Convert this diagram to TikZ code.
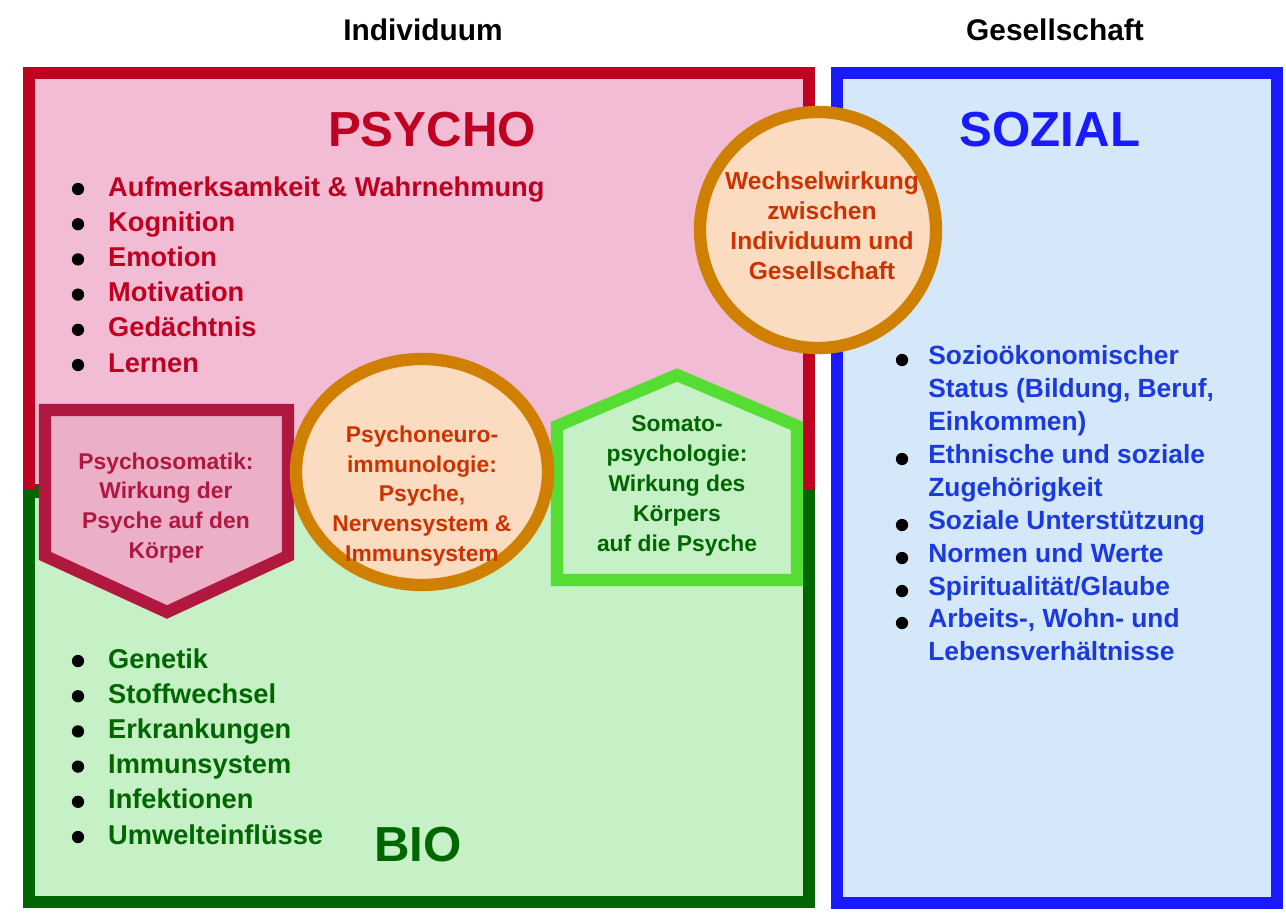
\documentclass[tikz,border=0pt]{standalone}
\usepackage{fontspec}
\setmainfont{Liberation Sans}
\definecolor{pred}{HTML}{C00020}
\definecolor{pfill}{HTML}{F2BCD4}
\definecolor{gdark}{HTML}{006600}
\definecolor{gfill}{HTML}{C6F0C6}
\definecolor{sblue}{HTML}{1A1AFF}
\definecolor{sfill}{HTML}{D4E8FA}
\definecolor{orng}{HTML}{D08000}
\definecolor{ofill}{HTML}{FBDCC0}
\definecolor{otext}{HTML}{CC3300}
\definecolor{psred}{HTML}{B01840}
\definecolor{psfill}{HTML}{EBAFC8}
\definecolor{lgreen}{HTML}{55DD33}
\definecolor{btext}{HTML}{1A3ADD}
\begin{document}
\begin{tikzpicture}[x=0.02cm,y=-0.02cm,
  hdr/.style={font=\fontsize{17}{19}\selectfont\bfseries},
  ttl/.style={font=\fontsize{28}{30}\selectfont\bfseries},
  itm/.style={font=\fontsize{15.5}{18.7}\selectfont\bfseries,anchor=west,align=left,text height=11pt,text depth=3pt},
  sitm/.style={font=\fontsize{15}{18.7}\selectfont\bfseries,anchor=north west,align=left,inner sep=0pt,text=btext},
  ctext/.style={font=\fontsize{13}{17}\selectfont\bfseries,align=center},
  bul/.style={circle,fill=black,inner sep=0pt,minimum size=7pt}]
\useasboundingbox (0,0) rectangle (1286,913);
\node[hdr] (ind) at (423,30) {Individuum};
\node[hdr] (ges) at (1055,30) {Gesellschaft};
% boxes
\draw[pred,line width=7pt,fill=pfill] (29,73) rectangle (809,490);
\draw[gdark,line width=7pt,fill=gfill] (29,492) rectangle (809,902);
\draw[pred,line width=7pt] (29,490) -- (29,73) -- (809,73) -- (809,490);
\draw[sblue,line width=7pt,fill=sfill] (837,73) rectangle (1277,903);
\node[ttl,text=pred] (psy) at (432,130) {PSYCHO};
\node[ttl,text=sblue] (soz) at (1050,130) {SOZIAL};
\node[ttl,text=gdark] (bio) at (418,845) {BIO};
% lists
\foreach \t [count=\i] in {Aufmerksamkeit \& Wahrnehmung,Kognition,Emotion,Motivation,Gedächtnis,Lernen}{
  \node[bul] (pb\i) at (78,{187+35.2*(\i-1)+2}) {};
  \node[itm,text=pred] (pt\i) at (102,{189+35.2*(\i-1)}) {\t};}
\foreach \t [count=\i] in {Genetik,Stoffwechsel,Erkrankungen,Immunsystem,Infektionen,Umwelteinflüsse}{
  \node[bul] (gb\i) at (78,{659+35.2*(\i-1)+2}) {};
  \node[itm,text=gdark] (gt\i) at (102,{661+35.2*(\i-1)}) {\t};}
\node[sitm] (st1) at (928,345) {Sozioökonomischer\\Status (Bildung, Beruf,\\Einkommen)};
\node[sitm] (st2) at (928,444) {Ethnische und soziale\\Zugehörigkeit};
\node[sitm] (st3) at (928,510) {Soziale Unterstützung};
\node[sitm] (st4) at (928,543) {Normen und Werte};
\node[sitm] (st5) at (928,576) {Spiritualität/Glaube};
\node[sitm] (st6) at (928,608) {Arbeits-, Wohn- und\\Lebensverhältnisse};
\foreach \y [count=\i] in {360,459,525,558,591,623}{\node[bul] (sb\i) at (902,\y) {};}
% pentagon down
\draw[psred,line width=7pt,fill=psfill] (45,410) -- (288,410) -- (288,556) -- (167,612) -- (45,556) -- cycle;
\node[ctext,text=psred] (psm) at (166,508) {Psychosomatik:\\Wirkung der\\Psyche auf den\\Körper};
% house
\draw[lgreen,line width=7pt,fill=gfill] (557,580) -- (557,426) -- (677,375) -- (797,426) -- (797,580) -- cycle;
\node[ctext,text=gdark] (som) at (677,486) {Somato-\\psychologie:\\Wirkung des\\Körpers\\auf die Psyche};
% circles
\draw[orng,line width=7pt,fill=ofill] (422,472) ellipse [x radius=126,y radius=113];
\node[ctext,text=otext] (pni) at (422,496) {Psychoneuro-\\immunologie:\\Psyche,\\Nervensystem \&\\Immunsystem};
\draw[orng,line width=7pt,fill=ofill] (818,230) circle [radius=118];
\node[ctext,text=otext,font=\fontsize{14}{17}\selectfont\bfseries] (ww) at (822,226) {Wechselwirkung\\zwischen\\Individuum und\\Gesellschaft};
\end{tikzpicture}
\end{document}
